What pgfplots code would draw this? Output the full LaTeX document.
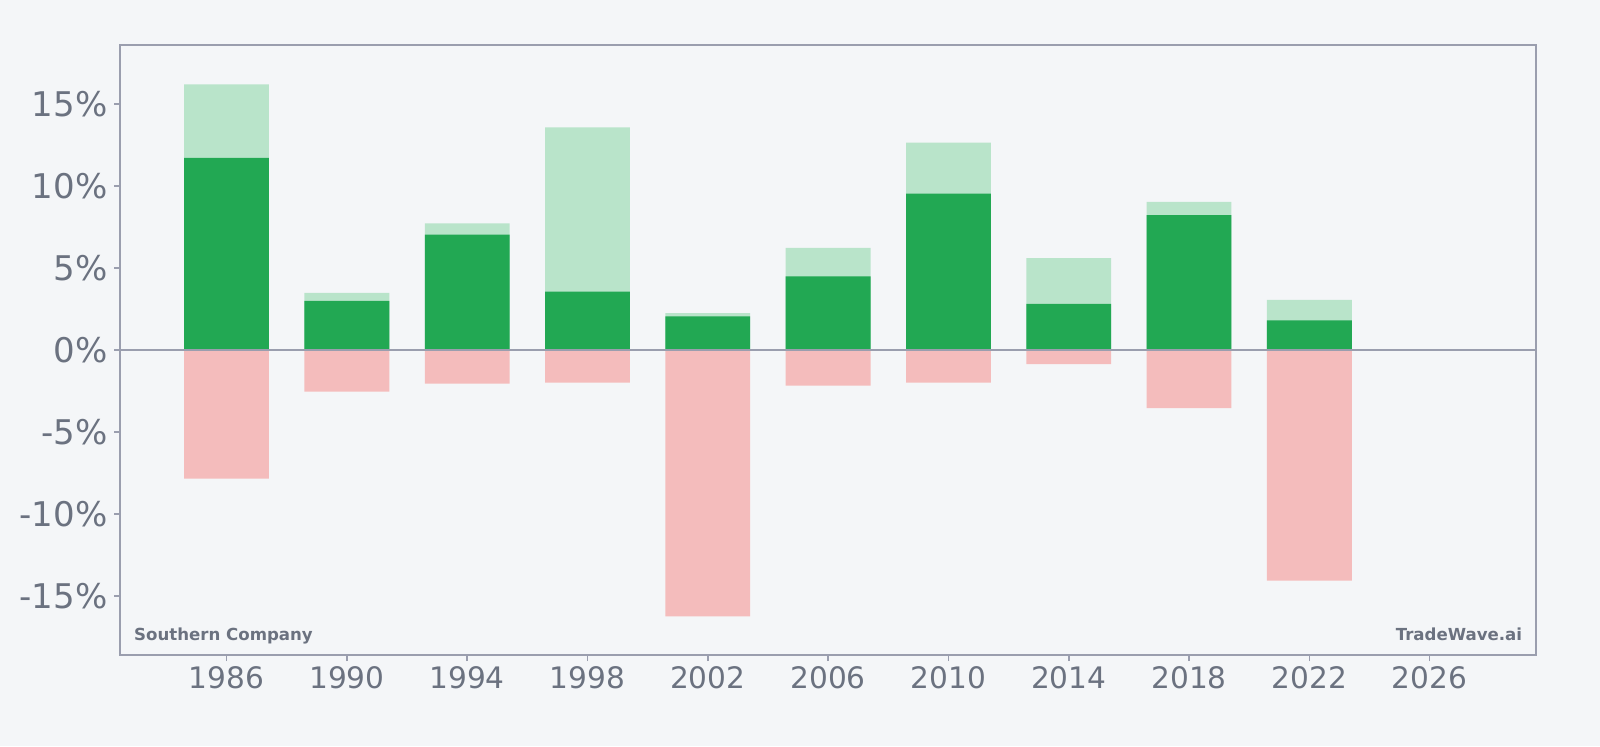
\documentclass[border=0pt]{standalone}
\usepackage{pgfplots}
\pgfplotsset{compat=1.18}
\usepackage{fontspec}
\setmainfont{DejaVu Sans}
\definecolor{bg}{HTML}{F4F6F8}
\definecolor{dkgreen}{HTML}{22A853}
\definecolor{ltgreen}{HTML}{B9E4CA}
\definecolor{pinkred}{HTML}{F4BCBC}
\definecolor{axgray}{HTML}{9A9EAE}
\definecolor{txtgray}{HTML}{6B7280}
\begin{document}
\begin{tikzpicture}
\fill[bg] (-60.2pt,-45.5pt) rectangle (739.8pt,327.5pt);
\begin{axis}[
  at={(0,0)}, anchor=south west,
  scale only axis,
  width=707.7pt, height=305.1pt,
  xmin=1982.47, xmax=2029.53,
  ymin=-18.6, ymax=18.6,
  axis line style={axgray, line width=1pt},
  tick style={axgray, line width=0.8pt},
  major tick length=3pt,
  tick align=outside,
  xtick pos=bottom, ytick pos=left,
  xtick={1986,1990,1994,1998,2002,2006,2010,2014,2018,2022,2026},
  xticklabels={1986,1990,1994,1998,2002,2006,2010,2014,2018,2022,2026},
  ytick={-15,-10,-5,0,5,10,15},
  yticklabels={-15\%,-10\%,-5\%,0\%,5\%,10\%,15\%},
  ticklabel style={text=txtgray},
  xticklabel style={font=\fontsize{14.8}{17}\selectfont, yshift=1pt},
  yticklabel style={font=\fontsize{17}{20}\selectfont, xshift=0pt},
  axis background/.style={fill=bg},
  bar width=2.82,
  clip=false,
]
\addplot[ybar, bar shift=0pt, fill=ltgreen, draw=none] coordinates {
(1986,16.18) (1990,3.48) (1994,7.72) (1998,13.57) (2002,2.24) (2006,6.22) (2010,12.63) (2014,5.60) (2018,9.02) (2022,3.05)};
\addplot[ybar, bar shift=0pt, fill=dkgreen, draw=none] coordinates {
(1986,11.70) (1990,2.99) (1994,7.03) (1998,3.55) (2002,2.05) (2006,4.48) (2010,9.52) (2014,2.80) (2018,8.21) (2022,1.80)};
\addplot[ybar, bar shift=0pt, fill=pinkred, draw=none] coordinates {
(1986,-7.84) (1990,-2.55) (1994,-2.05) (1998,-1.99) (2002,-16.24) (2006,-2.18) (2010,-1.99) (2014,-0.87) (2018,-3.55) (2022,-14.06)};
\draw[axgray, line width=0.8pt] (axis cs:1982.47,0) -- (axis cs:2029.53,0);
\node[anchor=base west, inner sep=0pt, font=\fontsize{8.3}{10}\selectfont\bfseries, text=txtgray] at ([xshift=6.7pt,yshift=7.5pt]rel axis cs:0,0) {Southern Company};
\node[anchor=base east, inner sep=0pt, font=\fontsize{8.3}{10}\selectfont\bfseries, text=txtgray] at ([xshift=-6.7pt,yshift=7.5pt]rel axis cs:1,0) {TradeWave.ai};
\end{axis}
\end{tikzpicture}
\end{document}
